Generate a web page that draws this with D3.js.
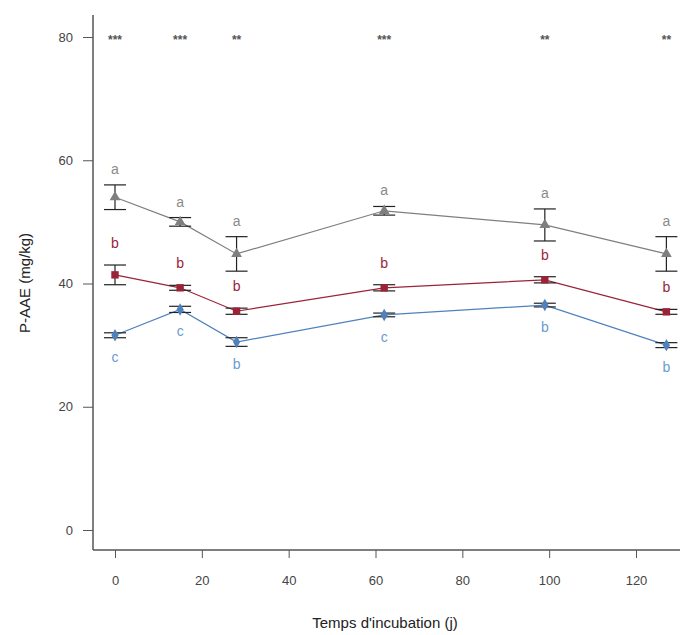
<!DOCTYPE html>
<html>
<head>
<meta charset="utf-8">
<script src="https://cdn.jsdelivr.net/npm/d3@7"></script>
<style>
  body { margin: 0; background: #fff; }
  text { font-family: "Liberation Sans", Arial, sans-serif; }
</style>
</head>
<body>
<div class="canva"></div>
<script>
// data
const days = [0, 15, 28, 62, 99, 127];
const greyVals = [54.0, 50.0, 44.8, 51.8, 49.5, 44.8];
const greyErr = [2.0, 0.7, 2.8, 0.7, 2.6, 2.8];
const greyLetters = ['a', 'a', 'a', 'a', 'a', 'a'];
const redVals = [41.4, 39.3, 35.5, 39.3, 40.6, 35.4];
const redErr = [1.6, 0.4, 0.5, 0.5, 0.5, 0.4];
const redLetters = ['b', 'b', 'b', 'b', 'b', 'b'];
const blueVals = [31.6, 35.8, 30.5, 34.9, 36.5, 30.0];
const blueErr = [0.4, 0.5, 0.7, 0.3, 0.3, 0.4];
const blueLetters = ['c', 'c', 'b', 'c', 'b', 'b'];
const stars = ['***', '***', '**', '***', '**', '**'];
const xTicks = [0, 20, 40, 60, 80, 100, 120];
const yTicks = [0, 20, 40, 60, 80];

const svg = d3.select('.canva').append('svg')
    .attr('width', 680)
    .attr('height', 635);

const x = d3.scaleLinear().domain([0, 120]).range([115, 636]);
const y = d3.scaleLinear().domain([0, 80]).range([530, 37]);

// axes
const yAxis = svg.append('g')
  .attr('transform', 'translate(93,0)')
  .call(d3.axisLeft(y).tickValues(yTicks).tickSize(10).tickPadding(10));
yAxis.select('.domain').remove();
svg.append('line').attr('x1', 93).attr('x2', 93).attr('y1', 15).attr('y2', 550)
  .attr('stroke', '#555').attr('stroke-width', 1.5);

const xAxis = svg.append('g')
  .attr('transform', 'translate(0,550)')
  .call(d3.axisBottom(x).tickValues(xTicks).tickSize(8).tickPadding(18));
xAxis.select('.domain').remove();
svg.append('line').attr('x1', 93).attr('x2', 680).attr('y1', 550).attr('y2', 550)
  .attr('stroke', '#555').attr('stroke-width', 1.5);

svg.selectAll('.tick line').attr('stroke', '#555');
svg.selectAll('.tick text').attr('font-size', 13).attr('fill', '#444')
  .style('font-family', '"Liberation Sans", Arial, sans-serif');

svg.append('text')
  .attr('x', 385).attr('y', 628)
  .attr('text-anchor', 'middle')
  .attr('font-size', 15).attr('fill', '#222')
  .text("Temps d'incubation (j)");

svg.append('text')
  .attr('transform', 'translate(30,283) rotate(-90)')
  .attr('text-anchor', 'middle')
  .attr('font-size', 15).attr('fill', '#222')
  .text('P-AAE (mg/kg)');

// significance stars
svg.selectAll('.star').data(days).enter().append('text')
  .attr('x', d => x(d))
  .attr('y', 44)
  .attr('text-anchor', 'middle')
  .attr('font-size', 12).attr('font-weight', 'bold').attr('fill', '#555')
  .text((d, i) => stars[i]);

const line = d3.line().x(d => x(d[0])).y(d => y(d[1]));

function series(vals, err, color, shape, size, letters, letterDy, letterColor) {
  const pts = days.map((d, i) => [d, vals[i], err[i]]);
  svg.append('path')
    .attr('d', line(pts))
    .attr('fill', 'none')
    .attr('stroke', color)
    .attr('stroke-width', 1.2);

  const eb = svg.append('g');
  pts.forEach(p => {
    const cx = x(p[0]);
    eb.append('line').attr('x1', cx).attr('x2', cx)
      .attr('y1', y(p[1] - p[2])).attr('y2', y(p[1] + p[2]))
      .attr('stroke', '#222').attr('stroke-width', 1.2);
    [p[1] - p[2], p[1] + p[2]].forEach(v => {
      eb.append('line').attr('x1', cx - 11).attr('x2', cx + 11)
        .attr('y1', y(v)).attr('y2', y(v))
        .attr('stroke', '#222').attr('stroke-width', 1.2);
    });
  });

  svg.selectAll(null).data(pts).enter().append('path')
    .attr('transform', d => `translate(${x(d[0])},${y(d[1])})`)
    .attr('d', d3.symbol().type(shape).size(size))
    .attr('fill', color);

  svg.selectAll(null).data(pts).enter().append('text')
    .attr('x', d => x(d[0]))
    .attr('y', (d, i) => letterDy(d, i))
    .attr('text-anchor', 'middle')
    .attr('font-size', 14).attr('fill', letterColor)
    .text((d, i) => letters[i]);
}

series(greyVals, greyErr, '#7f7f7f', d3.symbolTriangle, 50, greyLetters,
  d => y(d[1] + d[2]) - 11, '#8a8a8a');
series(redVals, redErr, '#9b2338', d3.symbolSquare, 55, redLetters,
  d => y(d[1] + Math.max(d[2], 0.4)) - 17, '#9b2338');
series(blueVals, blueErr, '#4f81bd', d3.symbolDiamond, 45, blueLetters,
  d => y(d[1]) + 27, '#6a9bd1');
</script>
</body>
</html>
